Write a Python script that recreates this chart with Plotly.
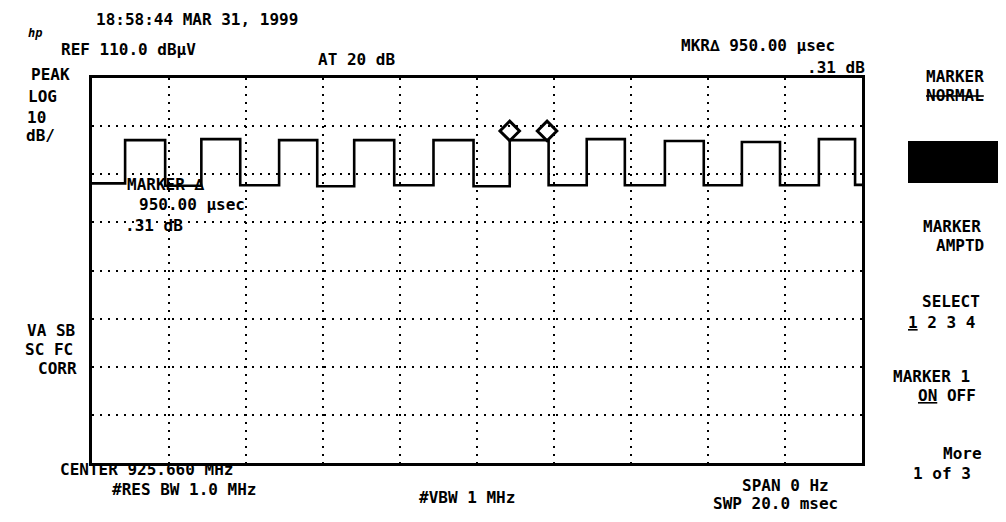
import plotly.graph_objects as go

edge_times_ms = [0.0, 0.86, 1.90, 2.84, 3.85, 4.86, 5.85, 6.81, 7.85, 8.87, 9.91,
                 10.85, 11.86, 12.85, 13.84, 14.88, 15.89, 16.88, 17.87, 18.88, 19.82, 20.0]
levels_dbuv = [88.1, 97.1, 87.6, 97.3, 87.7, 97.1, 87.5, 97.1, 87.7, 97.1, 87.5,
               97.1, 87.7, 97.3, 87.7, 96.9, 87.7, 96.7, 87.7, 97.3, 87.8, 87.8]
marker_times_ms = [10.85, 11.82]
marker_levels_dbuv = [99.0, 99.0]

sweep_ms = 20.0
ref_level = 110.0
db_per_div = 10
n_hdiv = 10
n_vdiv = 8

# ---- geometry (screen pixels; the page body adds an 8px offset) ----
OFF = 8
FW, FH = 1006 - OFF, 522 - OFF
L, R, T, B = 92, 862, 78, 463          # plot box on screen
W, H = R - L, B - T

fig = go.Figure()
fig.add_trace(go.Scatter(
    x=edge_times_ms, y=levels_dbuv, mode="lines", line_shape="hv",
    line=dict(color="black", width=2.6), hoverinfo="skip", showlegend=False))
fig.add_trace(go.Scatter(
    x=marker_times_ms, y=marker_levels_dbuv, mode="markers",
    marker=dict(symbol="diamond-open", size=15, color="black", line=dict(width=3, color="black")),
    hoverinfo="skip", showlegend=False))

axis_common = dict(showline=True, linecolor="black", linewidth=3, mirror=True,
                   showgrid=True, gridcolor="black", gridwidth=2, griddash="2px,6px",
                   zeroline=False, showticklabels=False, ticks="", fixedrange=True)
fig.update_xaxes(range=[0, sweep_ms], dtick=sweep_ms / n_hdiv, **axis_common)
fig.update_yaxes(range=[ref_level - n_vdiv * db_per_div, ref_level], dtick=db_per_div, **axis_common)

FONT = "DejaVu Sans Mono"


def label(text, cx, cy, size=16, anchor="center", italic=False):
    fig.add_annotation(
        text=text, x=(cx - L) / W, y=(B - cy) / H, xref="paper", yref="paper",
        xanchor=anchor, yanchor="middle", showarrow=False, borderpad=0,
        font=dict(family=FONT, size=size, color="black", weight="bold",
                  style="italic" if italic else "normal"))


# header
label("18:58:44 MAR 31, 1999", 197, 19)
label("hp", 35, 33, size=12, italic=True)
label("REF 110.0 dBµV", 128, 50)
label("AT 20 dB", 356, 60)
label("MKR∆ 950.00 µsec", 758, 46)
label(".31 dB", 836, 67)

# left side
label("PEAK", 50, 74)
label("LOG", 42, 96)
label("10", 36, 117)
label("dB/", 40, 135)
label("VA SB", 51, 330)
label("SC FC", 49, 349)
label("CORR", 57, 368)

# inside the graticule
label("MARKER ∆", 165, 184)
label("950.00 µsec", 192, 204)
label(".31 dB", 154, 225)

# bottom
label("CENTER 925.660 MHz", 146, 469)
label("#RES BW 1.0 MHz", 184, 489)
label("#VBW 1 MHz", 467, 497)
label("SPAN 0 Hz", 785, 485)
label("SWP 20.0 msec", 775, 504)

# softkeys
label("MARKER", 955, 76)
label("<s>NORMAL</s>", 955, 95)
label("MARKER", 952, 226)
label("AMPTD", 960, 245)
label("SELECT", 951, 301)
label("<u>1</u> 2 3 4", 941, 322)
label("MARKER 1", 932, 376)
label("<u>ON</u> OFF", 947, 395)
label("More", 962, 453)
label("1 of 3", 942, 473)

# highlighted softkey block
fig.add_shape(type="rect", xref="paper", yref="paper",
              x0=(908 - L) / W, x1=(1003 - L) / W, y0=(B - 183) / H, y1=(B - 141) / H,
              fillcolor="black", line=dict(color="black", width=0))

fig.update_layout(
    width=FW, height=FH,
    margin=dict(l=L - OFF, r=FW - (R - OFF), t=T - OFF, b=FH - (B - OFF), pad=0),
    paper_bgcolor="white", plot_bgcolor="white",
    showlegend=False,
)

fig.write_html("out.html")
